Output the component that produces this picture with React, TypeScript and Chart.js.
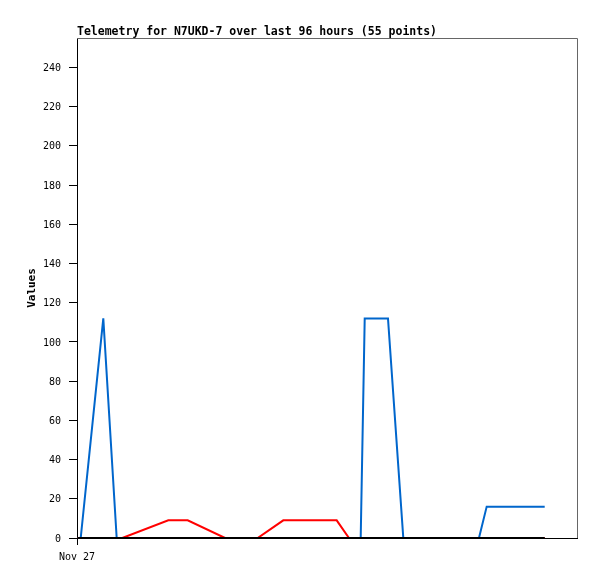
import React, { useEffect, useRef } from "react";
import { Chart, registerables } from "chart.js";

Chart.register(...registerables);

const TITLE = "Telemetry for N7UKD-7 over last 96 hours (55 points)";
const Y_LABEL = "Values";
const X_TICK_LABEL = "Nov 27";

// hours since Nov 27 00:00
const hours = [0.13, 0.71, 5.05, 7.62, 8.7, 17.53, 21.25, 28.42, 34.69, 39.61, 49.86, 52.22, 54.47, 55.24, 59.71, 62.65, 77.18, 78.66, 89.8];
const blueValues = [0, 0, 112, 0, 0, 0, 0, 0, 0, 0, 0, 0, 0, 112, 112, 0, 0, 16, 16];
const redValues = [0, 0, 0, 0, 0, 9, 9, 0, 0, 9, 9, 0, 0, 0, 0, 0, 0, 0, 0];
const blackValues = [0, 0, 0, 0, 0, 0, 0, 0, 0, 0, 0, 0, 0, 0, 0, 0, 0, 0, 0];

const Y_MIN = 0;
const Y_MAX = 255;
const Y_STEP = 20;
const X_MIN = 0;
const X_MAX = 96;

const toPoints = (vals: number[]) => vals.map((v, i) => ({ x: hours[i], y: v }));

const MONO = "'DejaVu Sans Mono', monospace";

const framePlugin = {
  id: "frame",
  beforeDatasetsDraw(chart: any) {
    const { ctx, chartArea } = chart;
    const { left, right, top, bottom } = chartArea;
    ctx.save();
    ctx.strokeStyle = "#666666";
    ctx.lineWidth = 1;
    ctx.beginPath();
    ctx.moveTo(left, top + 0.5);
    ctx.lineTo(right + 0.5, top + 0.5);
    ctx.lineTo(right + 0.5, bottom);
    ctx.stroke();
    ctx.restore();
  },
  afterDraw(chart: any) {
    const { ctx, chartArea } = chart;
    ctx.save();
    ctx.fillStyle = "#000";
    ctx.font = `bold 11.5px ${MONO}`;
    ctx.textAlign = "left";
    ctx.textBaseline = "alphabetic";
    ctx.fillText(TITLE, chartArea.left, 35);
    ctx.translate(35, 288);
    ctx.rotate(-Math.PI / 2);
    ctx.font = `bold 11px ${MONO}`;
    ctx.textAlign = "center";
    ctx.fillText(Y_LABEL, 0, 0);
    ctx.restore();
  },
};

export default function App() {
  const ref = useRef<HTMLCanvasElement | null>(null);
  useEffect(() => {
    if (!ref.current) return;
    const chart = new Chart(ref.current, {
      type: "line",
      data: {
        datasets: [
          { label: "c3", data: toPoints(blackValues), borderColor: "#000000", borderWidth: 2, pointRadius: 0, tension: 0, clip: false as any },
          { label: "c2", data: toPoints(redValues), borderColor: "#ff0000", borderWidth: 2, pointRadius: 0, tension: 0 },
          { label: "c1", data: toPoints(blueValues), borderColor: "#0066cc", borderWidth: 2, pointRadius: 0, tension: 0 },
        ],
      },
      options: {
        responsive: false,
        animation: false,
        devicePixelRatio: 1,
        layout: { padding: { top: 38, right: 20, bottom: 0, left: 0 } },
        plugins: { legend: { display: false }, tooltip: { enabled: false }, title: { display: false } },
        scales: {
          x: {
            type: "linear",
            min: X_MIN,
            max: X_MAX,
            afterFit: (s: any) => { s.height = 41; },
            afterBuildTicks: (s: any) => { s.ticks = [{ value: X_MIN }]; },
            grid: { display: true, drawOnChartArea: false, drawTicks: true, tickLength: 7, color: "#000" },
            border: { display: true, color: "#000", width: 1 },
            ticks: {
              color: "#000",
              font: { family: MONO, size: 10 },
              padding: 6,
              maxRotation: 0,
              autoSkip: false,
              callback: () => X_TICK_LABEL,
            },
          },
          y: {
            type: "linear",
            min: Y_MIN,
            max: Y_MAX,
            afterFit: (s: any) => { s.width = 77; },
            grid: { display: true, drawOnChartArea: false, drawTicks: true, tickLength: 8, color: "#000" },
            border: { display: true, color: "#000", width: 1 },
            ticks: {
              stepSize: Y_STEP,
              includeBounds: false,
              color: "#000",
              font: { family: MONO, size: 10 },
              padding: 8,
              labelOffset: 1,
              autoSkip: false,
            },
          },
        },
      },
      plugins: [framePlugin],
    });
    return () => chart.destroy();
  }, []);
  return (
    <div style={{ position: "absolute", left: 0, top: 0, width: 597, height: 579, background: "#fff" }}>
      <canvas ref={ref} width={597} height={579} style={{ width: 597, height: 579, display: "block" }} />
    </div>
  );
}
